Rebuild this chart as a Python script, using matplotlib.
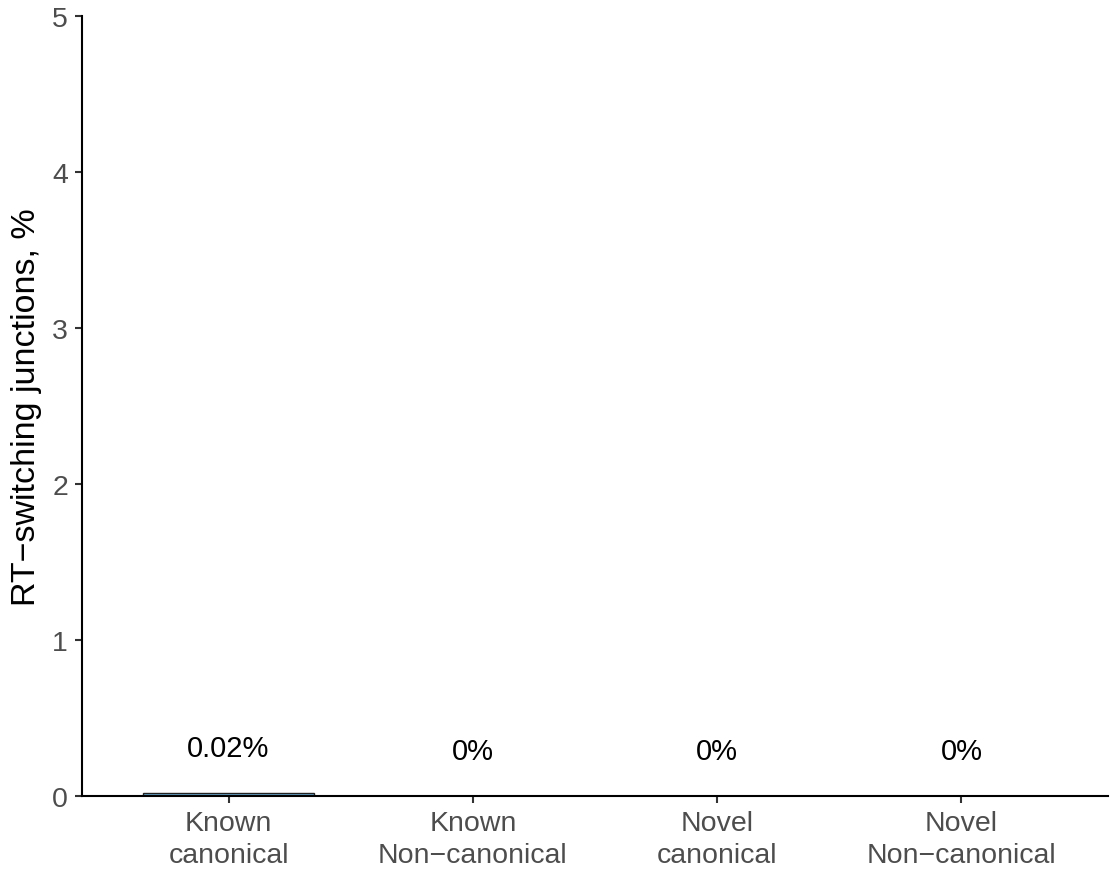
import matplotlib
matplotlib.use("Agg")
import matplotlib.pyplot as plt

plt.rcParams['font.family'] = ['Liberation Sans', 'DejaVu Sans']

# data
categories = ['Known\ncanonical', 'Known\nNon\u2212canonical', 'Novel\ncanonical', 'Novel\nNon\u2212canonical']
values = [0.02, 0.0, 0.0, 0.0]
labels = ['0.02%', '0%', '0%', '0%']

fig = plt.figure(figsize=(11.15, 8.7), dpi=100)
ax = fig.add_axes([0.0735, 0.0839, 0.9202, 0.8966])

x = list(range(len(categories)))
ax.bar(x, values, width=0.7, color='#6BAED6', edgecolor='#222222', linewidth=1.0)

for xi, v, lab in zip(x, values, labels):
    ax.annotate(lab, (xi, v), xytext=(0, 22), textcoords='offset points',
                ha='center', va='bottom', fontsize=21, color='black')

ax.set_xlim(-0.6, 3.6)
ax.set_ylim(0, 5)
ax.set_xticks(x)
ax.set_xticklabels(categories, fontsize=20.5, color='#4D4D4D', linespacing=1.3)
ax.set_yticks([0, 1, 2, 3, 4, 5])
ax.set_yticklabels(['0', '1', '2', '3', '4', '5'], fontsize=20.5, color='#4D4D4D')
ax.set_ylabel('RT\u2212switching junctions, %', fontsize=24.5, labelpad=7)

for side in ['top', 'right']:
    ax.spines[side].set_visible(False)
for side in ['left', 'bottom']:
    ax.spines[side].set_linewidth(1.5)
    ax.spines[side].set_color('black')
ax.tick_params(axis='both', length=5, width=1.5, color='#333333', pad=5)

fig.savefig('out.png', dpi=100)
